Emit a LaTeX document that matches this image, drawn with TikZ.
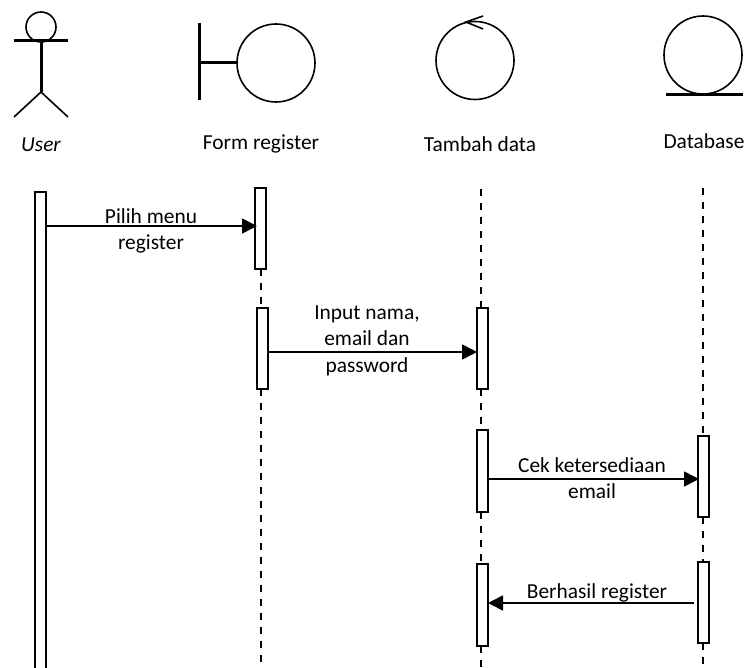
\documentclass[tikz,border=0pt]{standalone}
\usepackage{fontspec}
\setmainfont{Carlito}
\usetikzlibrary{arrows.meta}
\begin{document}
\begin{tikzpicture}[x=1pt,y=-1pt,
  every node/.style={inner sep=0pt,outer sep=0pt},
  thinline/.style={draw=black,line width=1.6pt},
  thickline/.style={draw=black,line width=3pt},
  activation/.style={draw=black,line width=1.6pt,fill=white,minimum width=11pt,anchor=north},
  lifeline/.style={draw=black,line width=2.1pt,dash pattern=on 7.3pt off 6.7pt},
  msg/.style={draw=black,line width=1.6pt,-{Triangle[length=15pt,width=15pt]}},
  label/.style={font=\fontsize{21.4}{24}\selectfont,text=black,anchor=base}]
\useasboundingbox (0,0) rectangle (747,668);
% actor
\draw[thinline] (41,27) circle (15);
\draw[thickline] (14,41) -- (68,41);
\draw[thickline] (41,41) -- (41,92);
\draw[thinline] (14,117) -- (41,92) -- (68,117);
% boundary
\draw[thickline] (199,23) -- (199,100);
\draw[thickline] (199,63) -- (238,63);
\draw[thinline] (276,63) circle (39);
% control
\draw[thinline] (475,60.5) circle (39);
\draw[thinline] (483,16) -- (466,22) -- (483,29);
% entity
\draw[thinline] (703,55) circle (39);
\draw[thickline] (666,94.5) -- (743,94.5);
% titles
\node[label,font=\fontsize{21.4}{24}\selectfont\itshape] (tu) at (41,151.5) {User};
\node[label] (tf) at (261,149.5) {Form register};
\node[label] (tt) at (480,151.5) {Tambah data};
\node[label] (td) at (704,148.5) {Database};
% lifeline ends
\coordinate (ttop) at (481,189);
\coordinate (dtop) at (703,188);
\coordinate (fbot) at (261,668);
\coordinate (tbot) at (481,668);
\coordinate (dbot) at (703,668);
% activations
\node[activation,minimum height=480pt] (u1) at (40.5,192) {};
\node[activation,minimum height=81pt] (f1) at (260.5,188) {};
\node[activation,minimum height=81pt] (f2) at (262.5,308) {};
\node[activation,minimum height=81pt] (t1) at (482.5,308) {};
\node[activation,minimum height=82pt] (t2) at (482.5,430) {};
\node[activation,minimum height=82pt] (t3) at (482.5,564) {};
\node[activation,minimum height=81pt] (d1) at (703.5,436) {};
\node[activation,minimum height=81pt] (d2) at (703.5,562) {};
% lifelines
\draw[lifeline] (f1.south -| fbot) -- (f2.north -| fbot);
\draw[lifeline] (f2.south -| fbot) -- (fbot);
\draw[lifeline] (ttop) -- (t1.north -| ttop);
\draw[lifeline] (t1.south -| ttop) -- (t2.north -| ttop);
\draw[lifeline] (t2.south -| ttop) -- (t3.north -| ttop);
\draw[lifeline] (t3.south -| ttop) -- (tbot);
\draw[lifeline] (dtop) -- (d1.north -| dtop);
\draw[lifeline] (d1.south -| dtop) -- (d2.north -| dtop);
\draw[lifeline] (d2.south -| dtop) -- (dbot);
% messages
\draw[msg] (u1.east |- 0,226) -- ([xshift=2pt]f1.west |- 0,226);
\draw[msg] (f2.east |- 0,352) -- (t1.west |- 0,352);
\draw[msg] (t2.east |- 0,479) -- ([xshift=1pt]d1.west |- 0,479);
\draw[msg] ([xshift=-4pt]d2.west |- 0,603) -- (t3.east |- 0,603);
% message labels
\node[label] (m1a) at (151,223.5) {Pilih menu};
\node[label] (m1b) at (151,249.5) {register};
\node[label] (m2a) at (367,319.5) {Input nama,};
\node[label] (m2b) at (367,345.5) {email dan};
\node[label] (m2c) at (367,372.5) {password};
\node[label] (m3a) at (592,472.5) {Cek ketersediaan};
\node[label] (m3b) at (592,498.5) {email};
\node[label] (m4) at (597,598) {Berhasil register};
\end{tikzpicture}
\end{document}
